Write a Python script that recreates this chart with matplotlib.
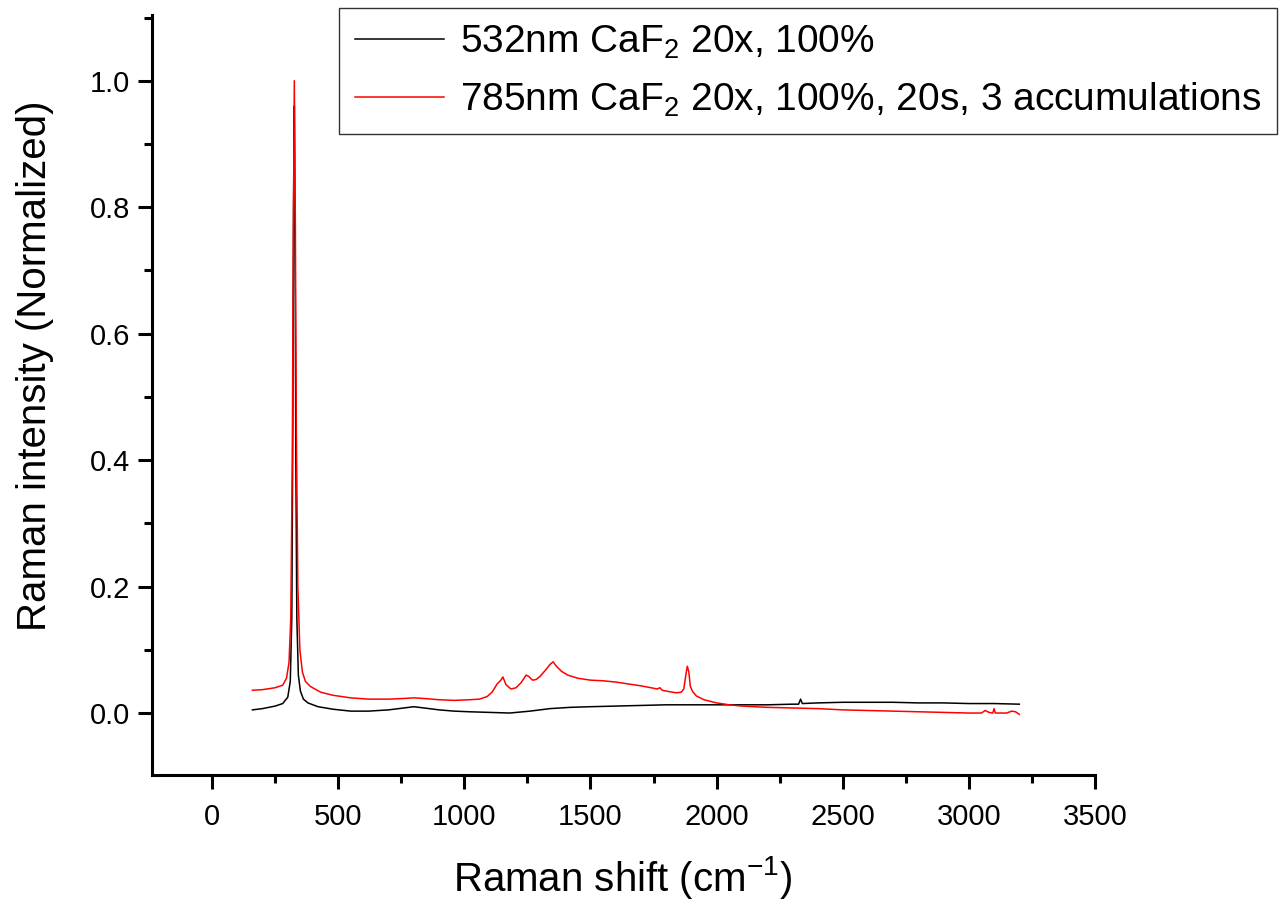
import matplotlib
matplotlib.use("Agg")
import matplotlib.pyplot as plt
from matplotlib.ticker import MultipleLocator

plt.rcParams['font.family'] = ['Liberation Sans', 'DejaVu Sans']
plt.rcParams['mathtext.fontset'] = 'custom'
plt.rcParams['mathtext.rm'] = 'Liberation Sans'

# 532 nm spectrum (normalized)
black_x = [160, 200, 250, 280, 300, 310, 316, 320, 323, 326, 329, 332, 336, 342, 350, 362,
           380, 420, 480, 550, 620, 700, 760, 800, 840, 900, 960, 1020, 1100, 1180, 1260,
           1340, 1420, 1500, 1600, 1700, 1800, 1900, 2000, 2100, 2200, 2300, 2325, 2333,
           2340, 2400, 2500, 2600, 2700, 2800, 2900, 3000, 3100, 3200]
black_y = [0.005, 0.007, 0.011, 0.015, 0.025, 0.05, 0.15, 0.45, 0.8, 0.96, 0.75, 0.4, 0.15,
           0.06, 0.035, 0.022, 0.016, 0.010, 0.006, 0.003, 0.003, 0.005, 0.008, 0.010, 0.008,
           0.005, 0.003, 0.002, 0.001, 0.000, 0.003, 0.007, 0.009, 0.010, 0.011, 0.012, 0.013,
           0.013, 0.013, 0.013, 0.013, 0.014, 0.014, 0.022, 0.015, 0.016, 0.017, 0.017, 0.017,
           0.016, 0.016, 0.015, 0.015, 0.014]

# 785 nm spectrum (normalized)
red_x = [160, 200, 250, 280, 295, 305, 312, 318, 322, 326, 330, 334, 340, 348, 358, 370, 390,
         430, 480, 550, 620, 700, 760, 800, 840, 900, 960, 1020, 1060, 1090, 1110, 1130, 1145,
         1153, 1165, 1185, 1205, 1225, 1245, 1255, 1270, 1285, 1300, 1320, 1340, 1352, 1365,
         1385, 1410, 1450, 1500, 1550, 1600, 1650, 1700, 1740, 1765, 1775, 1785, 1810, 1840,
         1860, 1870, 1878, 1884, 1890, 1896, 1905, 1920, 1950, 2000, 2050, 2100, 2200, 2300,
         2400, 2500, 2600, 2700, 2800, 2900, 3000, 3050, 3065, 3080, 3095, 3100, 3105, 3120,
         3150, 3170, 3185, 3200]
red_y = [0.036, 0.037, 0.040, 0.044, 0.055, 0.08, 0.15, 0.4, 0.75, 1.0, 0.78, 0.45, 0.2, 0.1,
         0.065, 0.05, 0.042, 0.033, 0.028, 0.024, 0.022, 0.022, 0.023, 0.024, 0.023, 0.021,
         0.020, 0.021, 0.022, 0.026, 0.033, 0.046, 0.052, 0.057, 0.045, 0.038, 0.040, 0.048,
         0.060, 0.058, 0.052, 0.053, 0.058, 0.067, 0.077, 0.081, 0.074, 0.066, 0.060, 0.055,
         0.052, 0.051, 0.049, 0.046, 0.043, 0.040, 0.038, 0.040, 0.036, 0.034, 0.032, 0.033,
         0.038, 0.060, 0.074, 0.065, 0.042, 0.034, 0.027, 0.021, 0.016, 0.013, 0.011, 0.009,
         0.008, 0.007, 0.005, 0.004, 0.003, 0.002, 0.001, 0.000, 0.000, 0.004, 0.001, 0.000,
         0.007, 0.000, 0.000, 0.000, 0.003, 0.002, -0.002]

labels = ['532nm CaF$_\\mathregular{2}$ 20x, 100%',
          '785nm CaF$_\\mathregular{2}$ 20x, 100%, 20s, 3 accumulations']

fig = plt.figure(figsize=(12.82, 9.02), dpi=100)
ax = fig.add_axes([0.1186, 0.1408, 0.7355, 0.8426])

ax.plot(black_x, black_y, color='black', lw=1.1, label=labels[0])
ax.plot(red_x, red_y, color='red', lw=1.1, label=labels[1])

ax.set_xlim(-238, 3500)
ax.set_ylim(-0.098, 1.104)
ax.xaxis.set_major_locator(MultipleLocator(500))
ax.xaxis.set_minor_locator(MultipleLocator(250))
ax.yaxis.set_major_locator(MultipleLocator(0.2))
ax.yaxis.set_minor_locator(MultipleLocator(0.1))
ax.yaxis.set_major_formatter(plt.FormatStrFormatter('%.1f'))

for side in ['top', 'right']:
    ax.spines[side].set_visible(False)
for side in ['left', 'bottom']:
    ax.spines[side].set_linewidth(2.2)

ax.tick_params(which='major', direction='out', length=10, width=2.2, labelsize=21)
ax.tick_params(which='minor', direction='out', length=5.5, width=2.2)
ax.tick_params(axis='x', which='major', pad=10)
ax.tick_params(axis='y', which='major', pad=6)

ax.set_xlabel('Raman shift (cm$^\\mathregular{-1}$)', fontsize=29)
ax.set_ylabel('Raman intensity (Normalized)', fontsize=29)
ax.xaxis.set_label_coords(0.4995, -0.1355)
ax.xaxis.label.set_va('center')
ax.yaxis.set_label_coords(-0.124, 0.538)
ax.yaxis.label.set_va('center')

leg = fig.legend(loc='upper right', bbox_to_anchor=(1277 / 1282, 1 - 8 / 902),
                 fontsize=28, frameon=True, fancybox=False, handlelength=2.3,
                 handletextpad=0.4, borderpad=0.4, labelspacing=0.5, borderaxespad=0)
leg.get_frame().set_edgecolor('black')
leg.get_frame().set_linewidth(1.0)

fig.savefig('out.png', dpi=100)
